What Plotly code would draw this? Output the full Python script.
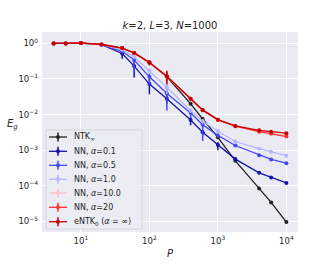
import plotly.graph_objects as go

P = [4, 6, 10, 20, 40, 60, 100, 180, 400, 600, 1000, 1800, 4000, 6000, 10000]

ntk_inf = [1.0, 1.0, 1.02, 0.93, 0.74, 0.53, 0.29, 0.115, 0.020, 0.0075, 0.0023, 0.0005, 8.3e-5, 3.4e-5, 9.5e-6]
nn_a01 = [1.0, 1.0, 1.02, 0.92, 0.52, 0.23, 0.072, 0.028, 0.0070, 0.0032, 0.0014, 0.00056, 0.00023, 0.00017, 0.00012]
nn_a05 = [1.0, 1.0, 1.02, 0.92, 0.60, 0.34, 0.115, 0.039, 0.011, 0.0052, 0.0026, 0.00135, 0.00072, 0.00055, 0.00043]
nn_a1 = [1.0, 1.0, 1.02, 0.92, 0.66, 0.42, 0.17, 0.058, 0.013, 0.0065, 0.0034, 0.00175, 0.0011, 0.0009, 0.0007]
nn_a10 = [1.0, 1.0, 1.02, 0.93, 0.73, 0.53, 0.28, 0.115, 0.027, 0.0128, 0.0070, 0.0046, 0.0034, 0.0030, 0.0026]
nn_a20 = [1.0, 1.0, 1.02, 0.93, 0.74, 0.54, 0.29, 0.118, 0.028, 0.0132, 0.0071, 0.0047, 0.0033, 0.0029, 0.0024]
entk0 = [1.0, 1.0, 1.03, 0.93, 0.74, 0.54, 0.29, 0.12, 0.028, 0.0135, 0.0072, 0.0048, 0.0036, 0.0033, 0.0030]

# asymmetric error bars (upper, lower)
ntk_up = [0.02, 0.02, 0.05, 0.02, 0.03, 0.03, 0.02, 0.01, 0.001, 0.0003, 0.0001, 2e-5, 3e-6, 1e-6, 3e-7]
ntk_lo = ntk_up
a01_up = [0.02, 0.02, 0.06, 0.02, 0.15, 0.25, 0.03, 0.006, 0.0015, 0.0005, 0.0003, 5e-5, 2e-5, 1e-5, 5e-6]
a01_lo = [0.02, 0.02, 0.06, 0.02, 0.15, 0.12, 0.035, 0.008, 0.002, 0.0006, 0.0004, 5e-5, 2e-5, 1e-5, 5e-6]
a05_up = [0.02, 0.02, 0.06, 0.02, 0.08, 0.1, 0.03, 0.012, 0.002, 0.0013, 0.0003, 8e-5, 4e-5, 2e-5, 1e-5]
a05_lo = [0.02, 0.02, 0.06, 0.02, 0.08, 0.18, 0.05, 0.026, 0.003, 0.0034, 0.0003, 8e-5, 4e-5, 2e-5, 1e-5]
a1_up = [0.02, 0.02, 0.06, 0.02, 0.05, 0.05, 0.03, 0.02, 0.002, 0.001, 0.0003, 1e-4, 5e-5, 3e-5, 2e-5]
a1_lo = a1_up
a10_up = [0.02, 0.02, 0.05, 0.02, 0.03, 0.03, 0.04, 0.03, 0.002, 0.0008, 0.0003, 0.0002, 0.0002, 0.0002, 0.0002]
a10_lo = a10_up
a20_up = [0.02, 0.02, 0.05, 0.02, 0.03, 0.03, 0.04, 0.04, 0.003, 0.0008, 0.0003, 0.0002, 0.0002, 0.0002, 0.0002]
a20_lo = a20_up
entk_up = [0.02, 0.02, 0.05, 0.02, 0.04, 0.04, 0.05, 0.05, 0.003, 0.0008, 0.0003, 0.0002, 0.0002, 0.0002, 0.0002]
entk_lo = entk_up

names = ["NTK<sub>∞</sub>", "NN, <i>α</i>=0.1", "NN, <i>α</i>=0.5", "NN, <i>α</i>=1.0",
         "NN, <i>α</i>=10.0", "NN, <i>α</i>=20", "eNTK<sub>0</sub> (<i>α</i> = ∞)"]
values = [ntk_inf, nn_a01, nn_a05, nn_a1, nn_a10, nn_a20, entk0]
err_up = [ntk_up, a01_up, a05_up, a1_up, a10_up, a20_up, entk_up]
err_lo = [ntk_lo, a01_lo, a05_lo, a1_lo, a10_lo, a20_lo, entk_lo]
colors = ["#222222", "rgb(20,20,170)", "rgb(70,70,250)", "rgb(180,180,255)",
          "rgb(255,195,195)", "rgb(255,50,50)", "rgb(195,0,0)"]

x_tickvals = [10, 100, 1000, 10000]
x_ticktext = ["10<sup>1</sup>", "10<sup>2</sup>", "10<sup>3</sup>", "10<sup>4</sup>"]
y_tickvals = [1, 0.1, 0.01, 0.001, 1e-4, 1e-5]
y_ticktext = ["10<sup>0</sup>", "10<sup>−1</sup>", "10<sup>−2</sup>", "10<sup>−3</sup>", "10<sup>−4</sup>", "10<sup>−5</sup>"]

fig = go.Figure()
for name, ys, up, lo, col in zip(names, values, err_up, err_lo, colors):
    fig.add_trace(go.Scatter(
        x=P, y=ys, name=name, mode="lines+markers", showlegend=False,
        line=dict(color=col, width=1.3),
        marker=dict(color=col, size=4),
        error_y=dict(type="data", symmetric=False, array=up, arrayminus=lo,
                     color=col, thickness=1.5, width=0),
    ))

W, H = 332, 266
ML, MR, MT, MB = 42, 34, 32, 34
PW, PH = W - ML - MR, H - MT - MB


def px_x(x):  # page pixel -> paper x
    return (x - ML) / PW


def px_y(y):  # page pixel -> paper y
    return (H - MB - y) / PH


font = "DejaVu Sans"
shapes = []
annotations = []

# compact matplotlib-like legend
shapes.append(dict(type="rect", xref="paper", yref="paper",
                   x0=px_x(46), x1=px_x(142), y0=px_y(229), y1=px_y(130),
                   fillcolor="rgba(236,236,244,0.85)", line=dict(color="#cfcfd6", width=0.8),
                   layer="above"))
row_y = [137, 151.3, 165.3, 179.3, 193, 207.3, 221.7]
for name, col, ry in zip(names, colors, row_y):
    shapes.append(dict(type="line", xref="paper", yref="paper",
                       x0=px_x(49), x1=px_x(67), y0=px_y(ry), y1=px_y(ry),
                       line=dict(color=col, width=1.3), layer="above"))
    shapes.append(dict(type="line", xref="paper", yref="paper",
                       x0=px_x(58), x1=px_x(58), y0=px_y(ry - 4.5), y1=px_y(ry + 4.5),
                       line=dict(color=col, width=1.5), layer="above"))
    shapes.append(dict(type="circle", xref="paper", yref="paper",
                       x0=px_x(56), x1=px_x(60), y0=px_y(ry + 2), y1=px_y(ry - 2),
                       fillcolor=col, line=dict(color=col, width=0), layer="above"))
    annotations.append(dict(text=name, x=px_x(72), y=px_y(ry), xref="paper", yref="paper",
                            xanchor="left", yanchor="middle", showarrow=False,
                            font=dict(size=8, color="#262626")))

annotations.append(dict(text="<i>E<sub>g</sub></i>", x=px_x(12), y=px_y(124),
                        xref="paper", yref="paper", xanchor="center", yanchor="middle",
                        showarrow=False, font=dict(size=10, color="#262626")))
annotations.append(dict(text="<i>P</i>", x=px_x(170), y=px_y(253),
                        xref="paper", yref="paper", xanchor="center", yanchor="middle",
                        showarrow=False, font=dict(size=10, color="#262626")))

fig.update_layout(
    width=W, height=H,
    margin=dict(l=ML, r=MR, t=MT, b=MB, autoexpand=False),
    paper_bgcolor="white", plot_bgcolor="#EAEAF2",
    font=dict(family=font, size=8, color="#262626"),
    title=dict(text="<i>k</i>=2, <i>L</i>=3, <i>N</i>=1000", x=px_x(170), xref="paper",
               xanchor="center", y=1 - 25 / H, yanchor="middle",
               font=dict(size=10, color="#262626")),
    showlegend=False,
    hovermode=False,
    xaxis=dict(type="log", range=[0.432, 4.17], tickvals=x_tickvals, ticktext=x_ticktext,
               showgrid=True, gridcolor="white", gridwidth=1, zeroline=False,
               ticks="", showline=False, tickfont=dict(size=8.5), ticklabelstandoff=2),
    yaxis=dict(type="log", range=[-5.30, 0.32], tickvals=y_tickvals, ticktext=y_ticktext,
               showgrid=True, gridcolor="white", gridwidth=1, zeroline=False,
               ticks="", showline=False, tickfont=dict(size=8.5), ticklabelstandoff=3),
    shapes=shapes,
    annotations=annotations,
)

fig.write_html("out.html", config={"displayModeBar": False},
               post_script="document.body.style.margin='0';")
